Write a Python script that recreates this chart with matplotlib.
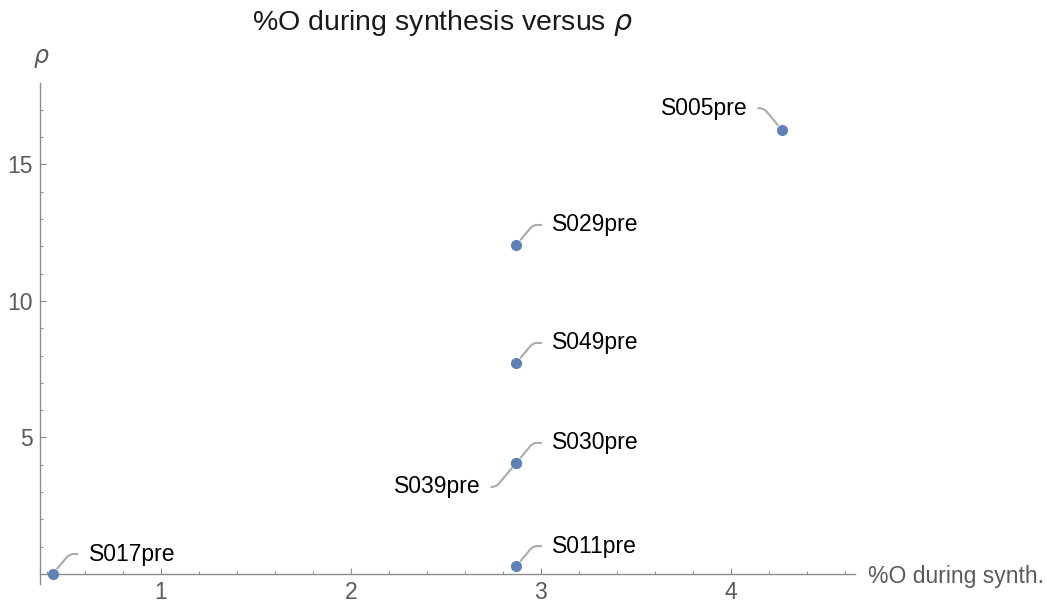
import matplotlib
matplotlib.use("Agg")
import matplotlib.pyplot as plt
from matplotlib.ticker import MultipleLocator

# data
labels = ["S005pre", "S029pre", "S049pre", "S030pre", "S039pre", "S011pre", "S017pre"]
pct_o = [4.27, 2.87, 2.87, 2.87, 2.87, 2.87, 0.43]
rho = [16.25, 12.05, 7.73, 4.07, 4.07, 0.29, 0.0]
# label side: 'ur' upper-right, 'ul' upper-left, 'll' lower-left
sides = ["ul", "ur", "ur", "ur", "ll", "ur", "ur"]
xticks = [1, 2, 3, 4]
yticks = [5, 10, 15]

plt.rcParams['font.family'] = ['Liberation Sans', 'DejaVu Sans']

fig = plt.figure(figsize=(10.47, 6.06), dpi=100)
ax = fig.add_axes([0.0382, 0.037, 0.7784, 0.826])
ax.set_xlim(0.363, 4.653)
ax.set_ylim(-0.35, 17.98)

gray = "#8c8c8c"
ax.spines['top'].set_visible(False)
ax.spines['right'].set_visible(False)
ax.spines['bottom'].set_position(('data', 0))
for s in ('left', 'bottom'):
    ax.spines[s].set_color(gray)
    ax.spines[s].set_linewidth(1.0)

ax.set_xticks(xticks)
ax.set_yticks(yticks)
ax.xaxis.set_minor_locator(MultipleLocator(0.2))
ax.yaxis.set_minor_locator(MultipleLocator(1))
ax.tick_params(which='major', direction='in', length=4, width=0.8, color=gray,
               labelsize=16.5, labelcolor="#5a5a5a", pad=5)
ax.tick_params(which='minor', direction='in', length=2.2, width=0.7, color=gray)

ax.plot(pct_o, rho, 'o', color="#5E81B5", markersize=7, zorder=3, clip_on=False)

offsets = {"ur": (36, 20, 'left'), "ul": (-35, 22, 'right'), "ll": (-36, -24, 'right')}
angles = {"ur": 50, "ul": -50, "ll": 50}
for lab, xv, yv, sd in zip(labels, pct_o, rho, sides):
    dx, dy, ha = offsets[sd]
    ax.annotate(lab, xy=(xv, yv), xytext=(dx, dy), textcoords='offset pixels',
                ha=ha, va='center', fontsize=16.5, color='black',
                arrowprops=dict(arrowstyle='-', color='#ababab', lw=1.5,
                                connectionstyle=f"angle,angleA=0,angleB={angles[sd]},rad=4",
                                shrinkA=6, shrinkB=5))

fig.text(442 / 1047, 1 - 23 / 606, "%O during synthesis versus $\\rho$",
         ha='center', va='center', fontsize=20.5, color='#1a1a1a')
fig.text(41 / 1047, 1 - 58 / 606, "$\\rho$", ha='center', va='center',
         fontsize=17, color='#5a5a5a')
fig.text(868 / 1047, 1 - 577 / 606, "%O during synth.", ha='left', va='center',
         fontsize=16.5, color='#5a5a5a')

fig.savefig("out.png", dpi=100)
